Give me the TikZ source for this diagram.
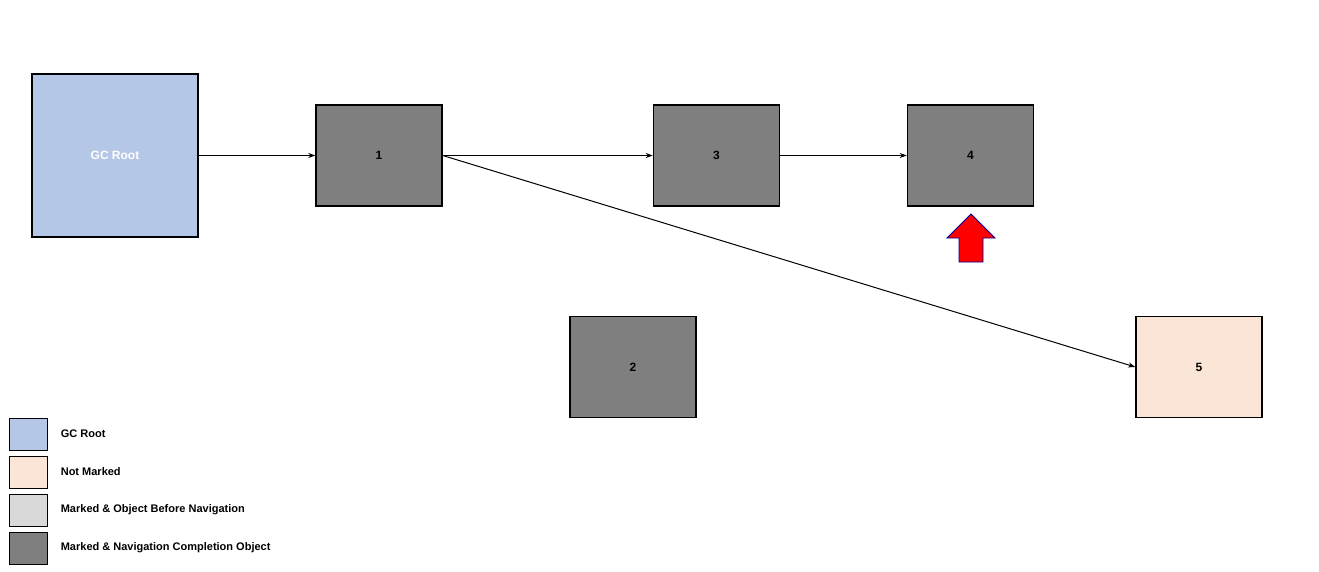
\documentclass[tikz,border=0pt]{standalone}
\usepackage{fontspec}
\setmainfont{Liberation Sans}
\usetikzlibrary{arrows.meta,positioning}
\definecolor{rootblue}{HTML}{B4C7E7}
\definecolor{notmarked}{HTML}{FBE5D6}
\definecolor{beforenav}{HTML}{D9D9D9}
\definecolor{donenav}{HTML}{7F7F7F}
\tikzset{
  obj/.style={draw,line width=1.5pt,minimum width=126pt,minimum height=101pt,inner sep=0pt,font=\bfseries\fontsize{12}{14}\selectfont},
  key/.style={draw,line width=0.6pt,minimum width=38pt,minimum height=32pt,inner sep=0pt},
  keytext/.style={right=10pt of #1,anchor=west,font=\bfseries\fontsize{11}{13}\selectfont},
  ref/.style={-{Stealth[length=7pt,width=5pt]},line width=1pt}
}
\begin{document}
\begin{tikzpicture}[x=1pt,y=-1pt]
    \useasboundingbox (0,0) rectangle (1319,572);
    \node[obj,fill=rootblue,text=white,minimum width=166pt,minimum height=163pt] (root) at (115,155.5) {GC Root};
    \node[obj,fill=donenav] (o1) at (379,155.5) {1};
    \node[obj,fill=donenav] (o3) at (716.5,155.5) {3};
    \node[obj,fill=donenav] (o4) at (970.5,155.5) {4};
    \node[obj,fill=donenav] (o2) at (633,367) {2};
    \node[obj,fill=notmarked] (o5) at (1199,367) {5};

    \draw[ref] (root) -- (o1);
    \draw[ref] (o1) -- (o3);
    \draw[ref] (o3) -- (o4);
    \draw[ref] (o1.east) -- (o5.west);

    % pointer to current object
    \draw[fill=red,draw=blue!60!black,line width=0.8pt] (971,214) -- (995,238) -- (983,238) -- (983,262)
      -- (959,262) -- (959,238) -- (947,238) -- cycle;

    % legend
    \node[key,fill=rootblue] (k1) at (28,434) {};
    \node[key,fill=notmarked] (k2) at (28,472) {};
    \node[key,fill=beforenav] (k3) at (28,510) {};
    \node[key,fill=donenav] (k4) at (28,548) {};
    \node[keytext=k1] {GC Root};
    \node[keytext=k2] {Not Marked};
    \node[keytext=k3] {Marked \& Object Before Navigation};
    \node[keytext=k4] {Marked \& Navigation Completion Object};
\end{tikzpicture}
\end{document}
